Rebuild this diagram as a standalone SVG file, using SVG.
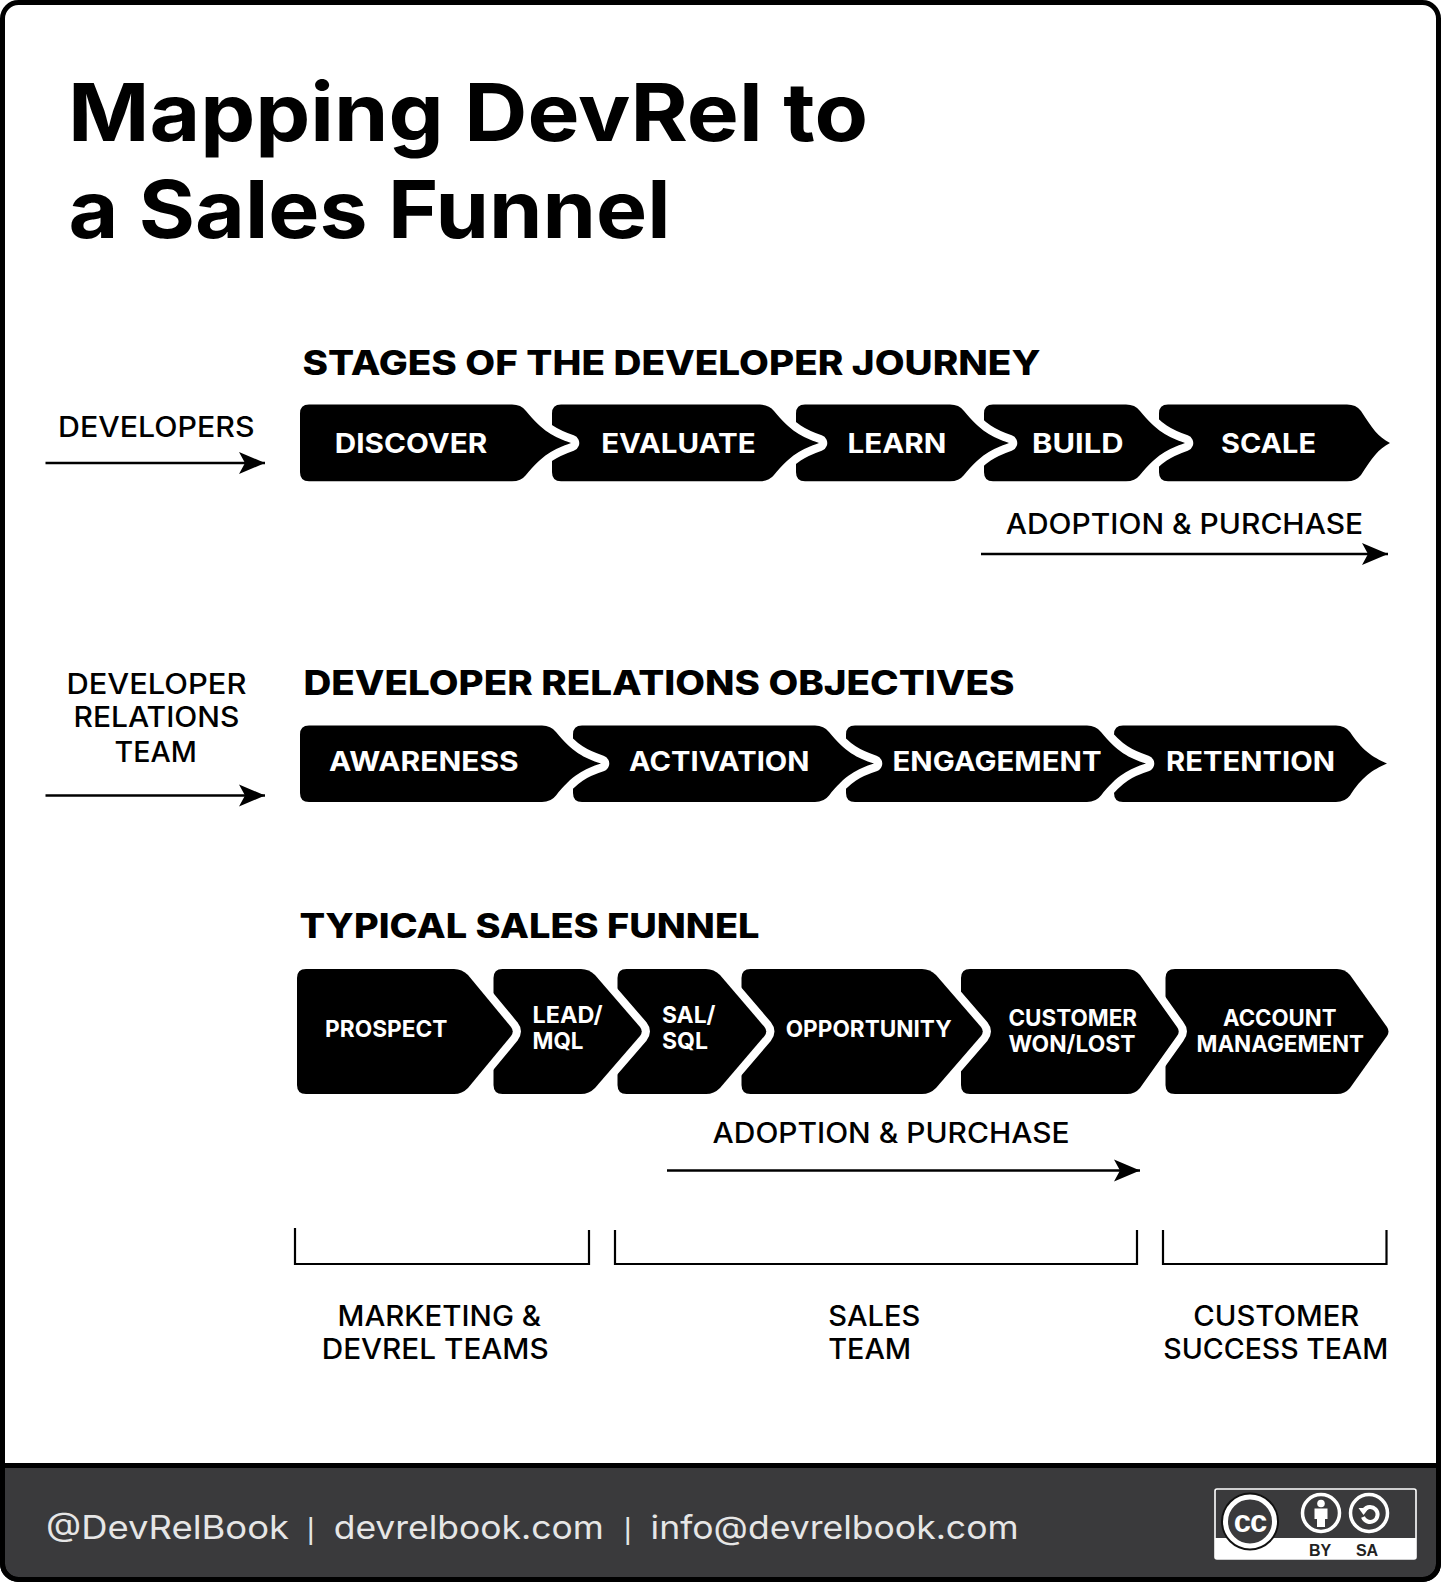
<svg xmlns="http://www.w3.org/2000/svg" width="1441" height="1582" viewBox="0 0 1441 1582">
<style>
text{font-family:"Inter","Open Sans","Liberation Sans",sans-serif}
.s{fill:#000;stroke:#fff;stroke-width:16.5;stroke-linejoin:round;paint-order:stroke}
.r{stroke-width:16}
.l{fill:#fff;font-weight:700;font-size:27px}
.m{fill:#fff;font-weight:700;font-size:23px}
.h{fill:#000;font-weight:800;font-size:33.5px}
.t{fill:#000;font-weight:700;font-size:80px}
.n{fill:#000;font-weight:500;font-size:28px}
.f{fill:#e6e6e6;font-weight:400;font-size:32px}
.p{font-family:"Liberation Sans",sans-serif;fill:#e6e6e6;font-size:29px;text-anchor:middle}
.c{font-family:"Liberation Sans",sans-serif;font-weight:700;text-anchor:middle}
.a{stroke:#000;stroke-width:2.6;fill:none;marker-end:url(#ah)}
.b{stroke:#000;stroke-width:2.2;fill:none}
</style>
<defs>
<marker id="ah" markerUnits="userSpaceOnUse" markerWidth="28" markerHeight="26" refX="26" refY="12" orient="auto"><path d="M0,1 L26,12 L0,23 L6,12Z" fill="#000"/></marker>
</defs>
<g id="frame">
<rect x="2.5" y="2.5" width="1436" height="1577" rx="16" fill="#fff"/>
<path d="M2.5,1465.5H1438.5V1563.5a16,16 0 0 1 -16,16H18.5a16,16 0 0 1 -16,-16Z" fill="#3a3a3c" stroke="#000" stroke-width="5"/>
<rect x="2.5" y="2.5" width="1436" height="1577" rx="16" fill="none" stroke="#000" stroke-width="5"/>
</g>
<g id="title">
<text class="t" x="68" y="141" textLength="800" lengthAdjust="spacingAndGlyphs">Mapping DevRel to</text>
<text class="t" x="68.5" y="238" textLength="602" lengthAdjust="spacingAndGlyphs">a Sales Funnel</text>
</g>
<g id="headings">
<text class="h" x="302.5" y="374.5" textLength="738" lengthAdjust="spacingAndGlyphs">STAGES OF THE DEVELOPER JOURNEY</text>
<text class="h" x="303.5" y="695" textLength="711" lengthAdjust="spacingAndGlyphs">DEVELOPER RELATIONS OBJECTIVES</text>
<text class="h" x="299.5" y="938" textLength="460" lengthAdjust="spacingAndGlyphs">TYPICAL SALES FUNNEL</text>
</g>
<g id="connectors">
<path class="a" d="M45.5,463H265"/>
<path class="a" d="M981,554H1388"/>
<path class="a" d="M45.5,795.5H265"/>
<path class="a" d="M667,1170.5H1140"/>
<path class="b" d="M295,1228V1264H589V1230"/>
<path class="b" d="M615,1230V1264H1137V1230"/>
<path class="b" d="M1163,1230V1264H1386.5V1230"/>
</g>
<g id="scale"><path class="s" d="M1168,404.6H1347Q1356,404.6 1361,411C1372,428 1378,437 1390,443C1378,449 1372,458 1361,475Q1356,481.3 1347,481.3H1168Q1159,481.3 1159,472.3V413.6Q1159,404.6 1168,404.6Z"/><text class="l" x="1221" y="452.5" textLength="95" lengthAdjust="spacingAndGlyphs">SCALE</text></g>
<g id="build"><path class="s" d="M993,404.6H1126Q1135,404.6 1140,411C1156,431 1168,437 1185,443C1168,449 1156,455 1140,475Q1135,481.3 1126,481.3H993Q984,481.3 984,472.3V413.6Q984,404.6 993,404.6Z"/><text class="l" x="1032" y="452.5" textLength="91.5" lengthAdjust="spacingAndGlyphs">BUILD</text></g>
<g id="learn"><path class="s" d="M805,404.6H950Q959,404.6 964,411C980,431 992,437 1009,443C992,449 980,455 964,475Q959,481.3 950,481.3H805Q796,481.3 796,472.3V413.6Q796,404.6 805,404.6Z"/><text class="l" x="847.4" y="452.5" textLength="99" lengthAdjust="spacingAndGlyphs">LEARN</text></g>
<g id="evaluate"><path class="s" d="M561,404.6H760Q769,404.6 774,411C790,431 802,437 819,443C802,449 790,455 774,475Q769,481.3 760,481.3H561Q552,481.3 552,472.3V413.6Q552,404.6 561,404.6Z"/><text class="l" x="601.2" y="452.5" textLength="154.4" lengthAdjust="spacingAndGlyphs">EVALUATE</text></g>
<g id="discover"><path class="s" d="M309,404.6H512Q521,404.6 526,411C542,431 554,437 571,443C554,449 542,455 526,475Q521,481.3 512,481.3H309Q300,481.3 300,472.3V413.6Q300,404.6 309,404.6Z"/><text class="l" x="334.8" y="452.5" textLength="152.4" lengthAdjust="spacingAndGlyphs">DISCOVER</text></g>
<g id="retention"><path class="s" d="M1123,725.5H1336Q1345,725.5 1350,732C1362,750 1372,757 1387,763.5C1372,770 1362,777 1350,795.5Q1345,802 1336,802H1123Q1114,802 1114,793V734.5Q1114,725.5 1123,725.5Z"/><text class="l" x="1166" y="770.5" textLength="169" lengthAdjust="spacingAndGlyphs">RETENTION</text></g>
<g id="engagement"><path class="s" d="M855,725.5H1087Q1096,725.5 1101,732C1117,752 1129,758 1146,763.5C1129,769 1117,775 1101,795.5Q1096,802 1087,802H855Q846,802 846,793V734.5Q846,725.5 855,725.5Z"/><text class="l" x="892.5" y="770.5" textLength="209" lengthAdjust="spacingAndGlyphs">ENGAGEMENT</text></g>
<g id="activation"><path class="s" d="M582,725.5H815Q824,725.5 829,732C845,752 857,758 874,763.5C857,769 845,775 829,795.5Q824,802 815,802H582Q573,802 573,793V734.5Q573,725.5 582,725.5Z"/><text class="l" x="629" y="770.5" textLength="180.5" lengthAdjust="spacingAndGlyphs">ACTIVATION</text></g>
<g id="awareness"><path class="s" d="M309,725.5H542Q551,725.5 556,732C572,752 584,758 601,763.5C584,769 572,775 556,795.5Q551,802 542,802H309Q300,802 300,793V734.5Q300,725.5 309,725.5Z"/><text class="l" x="329" y="770.5" textLength="189.7" lengthAdjust="spacingAndGlyphs">AWARENESS</text></g>
<g id="account"><path class="s r" d="M1175,969H1337Q1345,969 1350,975L1387,1027Q1390,1031.5 1387,1036L1350,1088Q1345,1094 1337,1094H1175Q1165.5,1094 1165.5,1085V978Q1165.5,969 1175,969Z"/><text class="m" x="1223" y="1026" textLength="113.5" lengthAdjust="spacingAndGlyphs">ACCOUNT</text><text class="m" x="1196.5" y="1051.5" textLength="167.5" lengthAdjust="spacingAndGlyphs">MANAGEMENT</text></g>
<g id="customer"><path class="s r" d="M970,969H1127Q1135,969 1140,975L1177,1027Q1180.5,1031.5 1177,1036L1140,1088Q1135,1094 1127,1094H970Q961,1094 961,1085V978Q961,969 970,969Z"/><text class="m" x="1008.5" y="1026" textLength="128.5" lengthAdjust="spacingAndGlyphs">CUSTOMER</text><text class="m" x="1008.5" y="1051.5" textLength="127" lengthAdjust="spacingAndGlyphs">WON/LOST</text></g>
<g id="opportunity"><path class="s r" d="M750.5,969H922Q930,969 936,975L981,1027Q984.5,1031.5 981,1036L936,1088Q930,1094 922,1094H750.5Q741.5,1094 741.5,1085V978Q741.5,969 750.5,969Z"/><text class="m" x="785.7" y="1037" textLength="166" lengthAdjust="spacingAndGlyphs">OPPORTUNITY</text></g>
<g id="sal"><path class="s r" d="M626.5,969H706Q714,969 720,975L764.5,1027Q768,1031.5 764.5,1036L720,1088Q714,1094 706,1094H626.5Q617.5,1094 617.5,1085V978Q617.5,969 626.5,969Z"/><text class="m" x="662" y="1022.5" textLength="53.5" lengthAdjust="spacingAndGlyphs">SAL/</text><text class="m" x="662" y="1048.5" textLength="46" lengthAdjust="spacingAndGlyphs">SQL</text></g>
<g id="lead"><path class="s r" d="M502.5,969H581Q589,969 595,975L640,1027Q643.5,1031.5 640,1036L595,1088Q589,1094 581,1094H502.5Q493.5,1094 493.5,1085V978Q493.5,969 502.5,969Z"/><text class="m" x="532.5" y="1022.5" textLength="70" lengthAdjust="spacingAndGlyphs">LEAD/</text><text class="m" x="532.5" y="1048.5" textLength="51" lengthAdjust="spacingAndGlyphs">MQL</text></g>
<g id="prospect"><path class="s r" d="M306,969H454Q462,969 468,975L511,1027Q514.5,1031.5 511,1036L468,1088Q462,1094 454,1094H306Q297,1094 297,1085V978Q297,969 306,969Z"/><text class="m" x="325" y="1037" textLength="122.5" lengthAdjust="spacingAndGlyphs">PROSPECT</text></g>
<g id="labels">
<text class="n" x="58" y="436.5" textLength="196.5" lengthAdjust="spacingAndGlyphs">DEVELOPERS</text>
<text class="n" x="66.4" y="693.5" textLength="180" lengthAdjust="spacingAndGlyphs">DEVELOPER</text>
<text class="n" x="73.5" y="727" textLength="165.8" lengthAdjust="spacingAndGlyphs">RELATIONS</text>
<text class="n" x="114.6" y="761.5" textLength="82.2" lengthAdjust="spacingAndGlyphs">TEAM</text>
<text class="n" x="1005.7" y="534" textLength="357.5" lengthAdjust="spacingAndGlyphs">ADOPTION &amp; PURCHASE</text>
<text class="n" x="712.6" y="1143" textLength="357" lengthAdjust="spacingAndGlyphs">ADOPTION &amp; PURCHASE</text>
<text class="n" x="337.5" y="1325.5" textLength="203.5" lengthAdjust="spacingAndGlyphs">MARKETING &amp;</text>
<text class="n" x="321.7" y="1359" textLength="227" lengthAdjust="spacingAndGlyphs">DEVREL TEAMS</text>
<text class="n" x="828.3" y="1325.5" textLength="92" lengthAdjust="spacingAndGlyphs">SALES</text>
<text class="n" x="828.2" y="1359" textLength="83" lengthAdjust="spacingAndGlyphs">TEAM</text>
<text class="n" x="1193.3" y="1325.5" textLength="166" lengthAdjust="spacingAndGlyphs">CUSTOMER</text>
<text class="n" x="1163.3" y="1359" textLength="225" lengthAdjust="spacingAndGlyphs">SUCCESS TEAM</text>
</g>
<g id="footer">
<text class="f" x="46" y="1539" textLength="243" lengthAdjust="spacingAndGlyphs">@DevRelBook</text>
<text class="p" x="310.8" y="1539">|</text>
<text class="f" x="333.7" y="1539" textLength="270" lengthAdjust="spacingAndGlyphs">devrelbook.com</text>
<text class="p" x="627.7" y="1539">|</text>
<text class="f" x="650.6" y="1539" textLength="368" lengthAdjust="spacingAndGlyphs">info@devrelbook.com</text>
</g>
<g id="license">
<rect x="1215" y="1489" width="201" height="70" rx="2" fill="#3a3a3c" stroke="#fff" stroke-width="1.6"/>
<rect x="1215" y="1538" width="201" height="21" fill="#fff"/>
<circle cx="1250" cy="1521.5" r="29" fill="#111"/>
<circle cx="1250" cy="1521.5" r="24.5" fill="#3a3a3c" stroke="#fff" stroke-width="5"/>
<text class="c" x="1250" y="1532" style="font-size:31px;letter-spacing:-1px" fill="#fff">cc</text>
<circle cx="1321" cy="1513" r="18.5" fill="#3a3a3c" stroke="#fff" stroke-width="3.5"/>
<circle cx="1321" cy="1503.5" r="3.8" fill="#fff"/>
<path d="M1314.5,1508.5H1327.5V1519H1325V1527H1317V1519H1314.5Z" fill="#fff"/>
<circle cx="1369" cy="1513" r="18.5" fill="#3a3a3c" stroke="#fff" stroke-width="3.5"/>
<path d="M1364,1510A7.5,7.5 0 1 1 1363,1517" fill="none" stroke="#fff" stroke-width="4"/>
<path d="M1358.5,1508H1369L1363.5,1515Z" fill="#fff"/>
<text class="c" x="1320" y="1555.5" style="font-size:16px" fill="#222">BY</text>
<text class="c" x="1367" y="1555.5" style="font-size:16px" fill="#222">SA</text>
</g>
</svg>
